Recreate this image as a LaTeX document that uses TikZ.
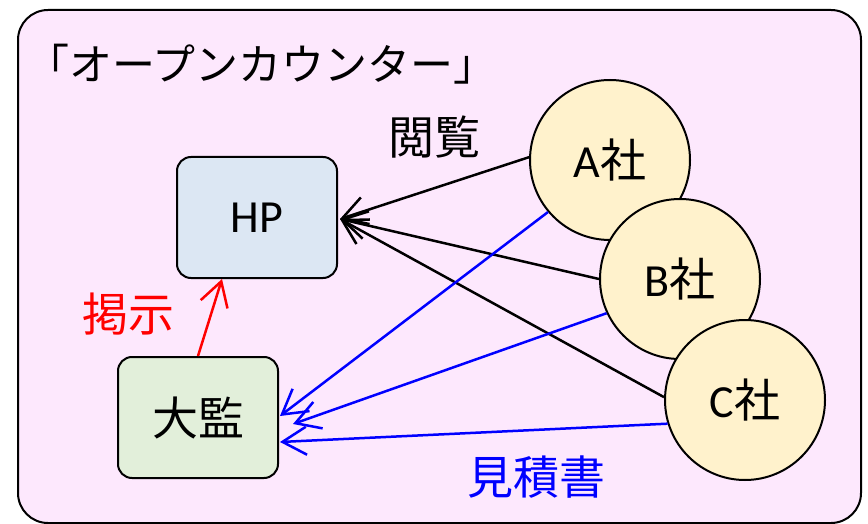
\documentclass[tikz,border=0pt]{standalone}
\usepackage{fontspec}
\setmainfont{Carlito}
\newfontfamily\jp{Noto Sans CJK JP}
\usetikzlibrary{arrows.meta}
\definecolor{bgpink}{RGB}{253,232,253}
\definecolor{hpblue}{RGB}{220,231,243}
\definecolor{kgreen}{RGB}{226,239,218}
\definecolor{cyel}{RGB}{255,242,204}
\definecolor{lblue}{RGB}{0,0,255}
\begin{document}
\begin{tikzpicture}[x=1pt,y=-1pt,
  box/.style={draw=black,line width=2pt,rounded corners=14pt,minimum width=160pt,minimum height=121pt,inner sep=0pt,font=\fontsize{46}{52}\selectfont},
  comp/.style={draw=black,line width=2pt,circle,fill=cyel,minimum size=160pt,inner sep=0pt,font=\fontsize{46}{52}\selectfont},
  arr/.style={line width=2.5pt,-{Straight Barb[length=24pt,width=28pt,line width=2.5pt]}},
  lbl/.style={font=\jp\fontsize{46}{52}\selectfont,inner sep=0pt}]
\useasboundingbox (0,0) rectangle (868,524);
\node[draw=black,line width=2pt,fill=bgpink,rounded corners=30pt,minimum width=843pt,minimum height=513pt,inner sep=0pt] (frame) at (439.5,266.5) {};
\node[font=\jp\fontsize{43}{48}\selectfont,anchor=west,inner sep=0pt] (title) at (26,64) {「オープンカウンター」};
\node[box,fill=hpblue] (hp) at (257,217.5) {HP};
\node[box,fill=kgreen] (kan) at (198,417.5) {\jp 大監};
\node[comp] (a) at (610,160) {A{\jp 社}};
\node[comp] (b) at (680,279) {B{\jp 社}};
\node[comp] (c) at (745,400) {C{\jp 社}};
\coordinate (hpin) at (340,219);
\coordinate (k1) at (280,416);
\coordinate (k2) at (293,424);
\coordinate (k3) at (280,442);
\coordinate (kout) at (198,356);
\coordinate (hpbot) at (222,279);
\draw[arr] (a.178.6) -- (hpin);
\draw[arr] (b.180.7) -- (hpin);
\draw[arr] (c.178) -- (hpin);
\draw[arr,lblue] (a.220) -- (k1);
\draw[arr,lblue] (b.205.6) -- (k2);
\draw[arr,lblue] (c.197) -- (k3);
\draw[arr,red] (kout) -- (hpbot);
\node[lbl] (etsuran) at (434,137) {閲覧};
\node[lbl,text=red] (keiji) at (128,314) {掲示};
\node[lbl,text=lblue] (mitsumori) at (536,477) {見積書};
\end{tikzpicture}
\end{document}
